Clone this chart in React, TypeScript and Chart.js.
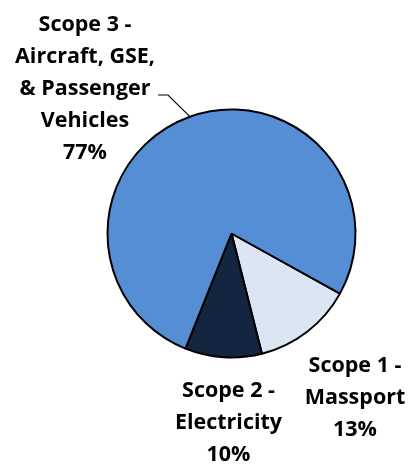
import React, { useEffect, useRef } from "react";
import { Chart, registerables } from "chart.js";

Chart.register(...registerables);

const categories = ["Scope 1 - Massport", "Scope 2 - Electricity", "Scope 3 - Aircraft, GSE, & Passenger Vehicles"];
const labelLines = [
  ["Scope 1 -", "Massport"],
  ["Scope 2 -", "Electricity"],
  ["Scope 3 -", "Aircraft, GSE,", "& Passenger", "Vehicles"],
];
const values = [13, 10, 77];
const colors = ["#DCE6F2", "#13253F", "#558ED5"];

// label anchor layout: center x, first baseline y
const labelLayout = [
  { x: 355, y: 371.5 },
  { x: 228.5, y: 396.5 },
  { x: 85, y: 30.5 },
];
const LINE_H = 32.2;
const FONT = "bold 21.5px 'Open Sans'";

const labelPlugin = {
  id: "pieLabels",
  afterDraw(chart: any) {
    const ctx = chart.ctx;
    const meta = chart.getDatasetMeta(0);
    const total = values.reduce((a, b) => a + b, 0);
    ctx.save();
    ctx.font = FONT;
    ctx.fillStyle = "#000";
    ctx.textAlign = "center";
    ctx.textBaseline = "alphabetic";
    values.forEach((v, i) => {
      const lines = [...labelLines[i], Math.round((v / total) * 100) + "%"];
      const L = labelLayout[i];
      lines.forEach((t, j) => ctx.fillText(t, L.x, L.y + j * LINE_H));
    });
    // leader line for Scope 3
    const arc = meta.data[2];
    const mid = (arc.startAngle + arc.endAngle) / 2;
    const ex = arc.x + Math.cos(mid) * arc.outerRadius;
    const ey = arc.y + Math.sin(mid) * arc.outerRadius;
    ctx.strokeStyle = "#000";
    ctx.lineWidth = 1.2;
    ctx.beginPath();
    ctx.moveTo(ex, ey);
    ctx.lineTo(168, 95);
    ctx.lineTo(158, 95);
    ctx.stroke();
    ctx.restore();
  },
};

export default function App() {
  const ref = useRef<HTMLCanvasElement>(null);
  useEffect(() => {
    const chart = new Chart(ref.current!, {
      type: "pie",
      data: {
        labels: categories,
        datasets: [
          {
            data: values,
            backgroundColor: colors,
            borderColor: "#000",
            borderWidth: 2,
            radius: 124,
          } as any,
        ],
      },
      options: {
        animation: false,
        responsive: false,
        rotation: 119,
        layout: { padding: { left: 54, right: 0, top: 3, bottom: 0 } },
        plugins: { legend: { display: false }, tooltip: { enabled: false } },
      },
      plugins: [labelPlugin],
    });
    return () => chart.destroy();
  }, []);
  return (
    <div style={{ position: "fixed", left: 0, top: 0, width: 409, height: 464, background: "#fff" }}>
      <canvas ref={ref} width={409} height={464} style={{ width: 409, height: 464 }} />
    </div>
  );
}
